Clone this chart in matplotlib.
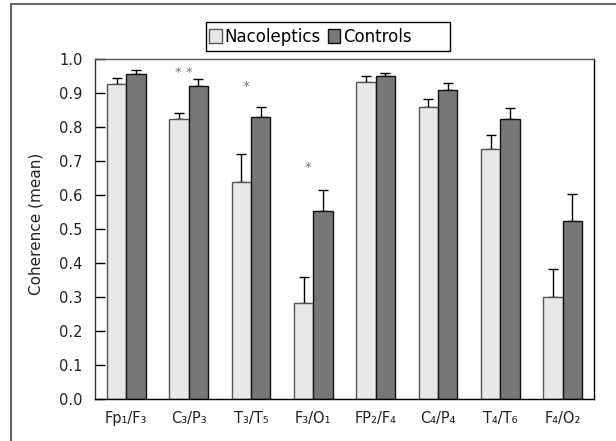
import matplotlib
matplotlib.use("Agg")
import matplotlib.pyplot as plt
from matplotlib.patches import Rectangle, Patch
import numpy as np

plt.rcParams['font.family'] = ['DejaVu Sans']

PAIRS = ["Fp₁/F₃", "C₃/P₃", "T₃/T₅", "F₃/O₁", "FP₂/F₄", "C₄/P₄", "T₄/T₆", "F₄/O₂"]
NACOLEPTICS = [0.926, 0.824, 0.638, 0.282, 0.932, 0.859, 0.735, 0.300]
NACOLEPTICS_ERR = [0.018, 0.016, 0.083, 0.077, 0.019, 0.023, 0.041, 0.082]
CONTROLS = [0.956, 0.921, 0.830, 0.552, 0.949, 0.909, 0.824, 0.523]
CONTROLS_ERR = [0.012, 0.019, 0.030, 0.062, 0.011, 0.020, 0.032, 0.081]
# (group index, label, height)
STARS = [(1, "* *", 0.960), (2, "*", 0.918), (3, "*", 0.682)]

W, H = 616, 441
fig = plt.figure(figsize=(W / 100, H / 100), dpi=100)
ax = fig.add_axes([95 / W, 1 - 399 / H, 499 / W, 340 / H])

x = np.arange(len(PAIRS))
bw = 0.31
ax.bar(x - bw / 2, NACOLEPTICS, bw, color="#e8e8e8", edgecolor="#555555",
       linewidth=1.0, zorder=2)
ax.bar(x + bw / 2, CONTROLS, bw, color="#777777", edgecolor="#111111",
       linewidth=1.0, zorder=2)
ax.errorbar(x - bw / 2, NACOLEPTICS, yerr=[np.zeros(len(x)), NACOLEPTICS_ERR],
            fmt="none", ecolor="black", elinewidth=1.0, capsize=3.5,
            capthick=1.0, zorder=1)
ax.errorbar(x + bw / 2, CONTROLS, yerr=[np.zeros(len(x)), CONTROLS_ERR],
            fmt="none", ecolor="black", elinewidth=1.0, capsize=3.5,
            capthick=1.0, zorder=1)

for i, lab, h in STARS:
    ax.text(i - 0.08, h, lab, ha="center", va="center", fontsize=9.5,
            color="#777777")

ax.set_xlim(-0.5, len(PAIRS) - 0.5)
ax.set_ylim(0, 1.0)
ax.set_yticks(np.arange(0, 1.01, 0.1))
ax.set_yticklabels(["%.1f" % v for v in np.arange(0, 1.01, 0.1)])
ax.set_xticks(x)
ax.set_xticklabels(PAIRS)
ax.tick_params(axis="y", direction="in", length=7, width=1.0,
               labelsize=10.5, pad=9, labelcolor="#222222")
ax.tick_params(axis="x", length=0, labelsize=10.5, pad=9, labelcolor="#222222")
for s in ax.spines.values():
    s.set_linewidth(1.0)
ax.spines["left"].set_color("#333333")
ax.spines["top"].set_color("#555555")
ax.set_ylabel("Coherence (mean)", fontsize=11, color="#222222")
ax.yaxis.set_label_coords(-0.104, 0.515)

# legend: entries without frame, box drawn separately (extra room on the right)
handles = [Patch(facecolor="#e8e8e8", edgecolor="#555555"),
           Patch(facecolor="#777777", edgecolor="#111111")]
leg = fig.legend(handles, ["Nacoleptics", "Controls"], ncol=2,
                 loc="center left", bbox_to_anchor=(209 / W, 1 - 36.5 / H),
                 frameon=False, fontsize=12,
                 handlelength=0.75, handleheight=0.95, handletextpad=0.2,
                 columnspacing=0.4, borderpad=0, borderaxespad=0)
fig.patches.append(Rectangle((206 / W, 1 - 51 / H), 244 / W, 29 / H,
                             transform=fig.transFigure, fill=False,
                             edgecolor="black", linewidth=1.0))

fig.patches.append(Rectangle((11 / W, -0.1), 1.2, 1 - 4 / H + 0.1,
                             transform=fig.transFigure, fill=False,
                             edgecolor="#666666", linewidth=1.5))

fig.savefig("out.png", dpi=100)
